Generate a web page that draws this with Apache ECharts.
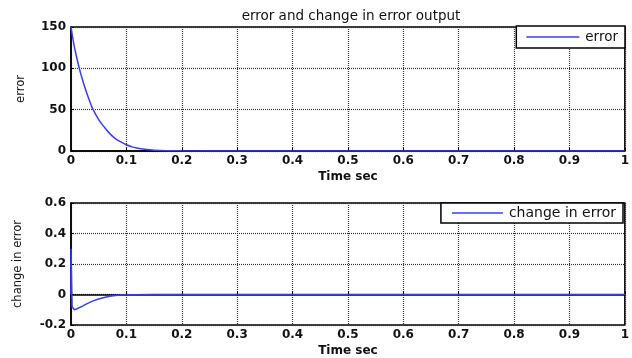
<!DOCTYPE html>
<html><head><meta charset="utf-8">
<script src="https://cdn.jsdelivr.net/npm/echarts@6/dist/echarts.min.js"></script>
<style>html,body{margin:0;padding:0;background:#fff}#c{width:632px;height:358px}</style>
</head><body><div id="c"></div>
<script>
const titleText = 'error and change in error output';
const xTicks = [0,0.1,0.2,0.3,0.4,0.5,0.6,0.7,0.8,0.9,1];
const errT = [0,0.005,0.01,0.015,0.02,0.025,0.03,0.035,0.04,0.05,0.06,0.07,0.08,0.09,0.1,0.11,0.12,0.13,0.15,0.2,0.3,0.5,1];
const errV = [150,130,114,100,88,77,67,58,50,38,29,21,15,11,7.5,5,3.5,2.3,1,0.2,0,0,0];
const dT = [0,0,0.002,0.006,0.01,0.02,0.03,0.04,0.05,0.06,0.07,0.08,0.09,0.1,0.12,0.15,0.5,0.5,0.5,1];
const dV = [0,0.3,-0.08,-0.1,-0.095,-0.078,-0.058,-0.042,-0.03,-0.02,-0.012,-0.007,-0.004,-0.002,-0.001,0,0,0.003,0,0];
const errorName = 'error';
const changeName = 'change in error';

const blue = '#3a3aff';
const font = '"DejaVu Sans", sans-serif';
const chart = echarts.init(document.getElementById('c'));
function xAxis(gi){
  return {type:'value',gridIndex:gi,min:0,max:1,interval:0.1,
    name:'Time sec',nameLocation:'middle',nameGap:20,
    nameTextStyle:{color:'#111',fontSize:12,fontWeight:'bold',fontFamily:font},
    axisLine:{show:true,lineStyle:{color:'#000',width:1.5}},
    axisTick:{show:true,inside:true,length:3,lineStyle:{color:'#000'}},
    axisLabel:{color:'#111',fontSize:12,fontWeight:'bold',fontFamily:font,margin:4,
      formatter:v=>xTicks.includes(+v.toFixed(1))?String(+v.toFixed(1)):''},
    splitLine:{show:true,lineStyle:{color:'#333',type:[1,1],width:1.2}}};
}
function yAxis(gi,min,max,iv,name,gap,fmt){
  return {type:'value',gridIndex:gi,min:min,max:max,interval:iv,
    name:name,nameLocation:'middle',nameGap:gap,nameRotate:90,
    nameTextStyle:{color:'#111',fontSize:11.5,fontFamily:font},
    axisLine:{show:true,lineStyle:{color:'#000',width:1.5}},
    axisTick:{show:true,inside:true,length:3,lineStyle:{color:'#000'}},
    axisLabel:{color:'#111',fontSize:12,fontWeight:'bold',fontFamily:font,margin:5,formatter:fmt},
    splitLine:{show:true,lineStyle:{color:'#333',type:[1,1],width:1.2}}};
}
chart.setOption({
  animation:false,
  backgroundColor:'#fff',
  title:{text:titleText,left:346,top:4,textAlign:'center',
    textStyle:{fontSize:13.5,fontWeight:'normal',color:'#111',fontFamily:font}},
  grid:[
    {left:71,right:7,top:27,height:124,show:true,borderColor:'#000',borderWidth:1.5,backgroundColor:'#fff'},
    {left:71,right:7,top:203,height:122,show:true,borderColor:'#000',borderWidth:1.5,backgroundColor:'#fff'}
  ],
  xAxis:[xAxis(0),xAxis(1)],
  yAxis:[
    yAxis(0,0,150,50,'error',44,v=>String(v)),
    yAxis(1,-0.2,0.6,0.2,'change in error',47,v=>{const r=Math.round(v*10)/10;return r===0?'0':r.toFixed(1);})
  ],
  legend:[
    {data:[{name:errorName,icon:'rect'}],right:7,top:26,orient:'horizontal',backgroundColor:'#fff',borderColor:'#000',borderWidth:1.5,
      padding:[4,7,4,10],itemWidth:53,itemHeight:1.3,itemGap:0,
      textStyle:{fontSize:13.5,color:'#111',fontFamily:font,padding:[0,0,0,1]}},
    {data:[{name:changeName,icon:'rect'}],right:9,top:203,orient:'horizontal',backgroundColor:'#fff',borderColor:'#000',borderWidth:1.5,
      padding:[3,7,3,11],itemWidth:51,itemHeight:1.3,itemGap:0,
      textStyle:{fontSize:14,color:'#111',fontFamily:font,padding:[0,0,0,1]}}
  ],
  series:[
    {name:errorName,type:'line',xAxisIndex:0,yAxisIndex:0,showSymbol:false,symbol:'none',smooth:0.3,
      lineStyle:{color:blue,width:1.5},itemStyle:{color:blue},
      data:errT.map((t,i)=>[t,errV[i]])},
    {name:changeName,type:'line',xAxisIndex:1,yAxisIndex:1,showSymbol:false,symbol:'none',
      lineStyle:{color:blue,width:1.5},itemStyle:{color:blue},
      data:dT.map((t,i)=>[t,dV[i]])}
  ]
});
</script></body></html>
